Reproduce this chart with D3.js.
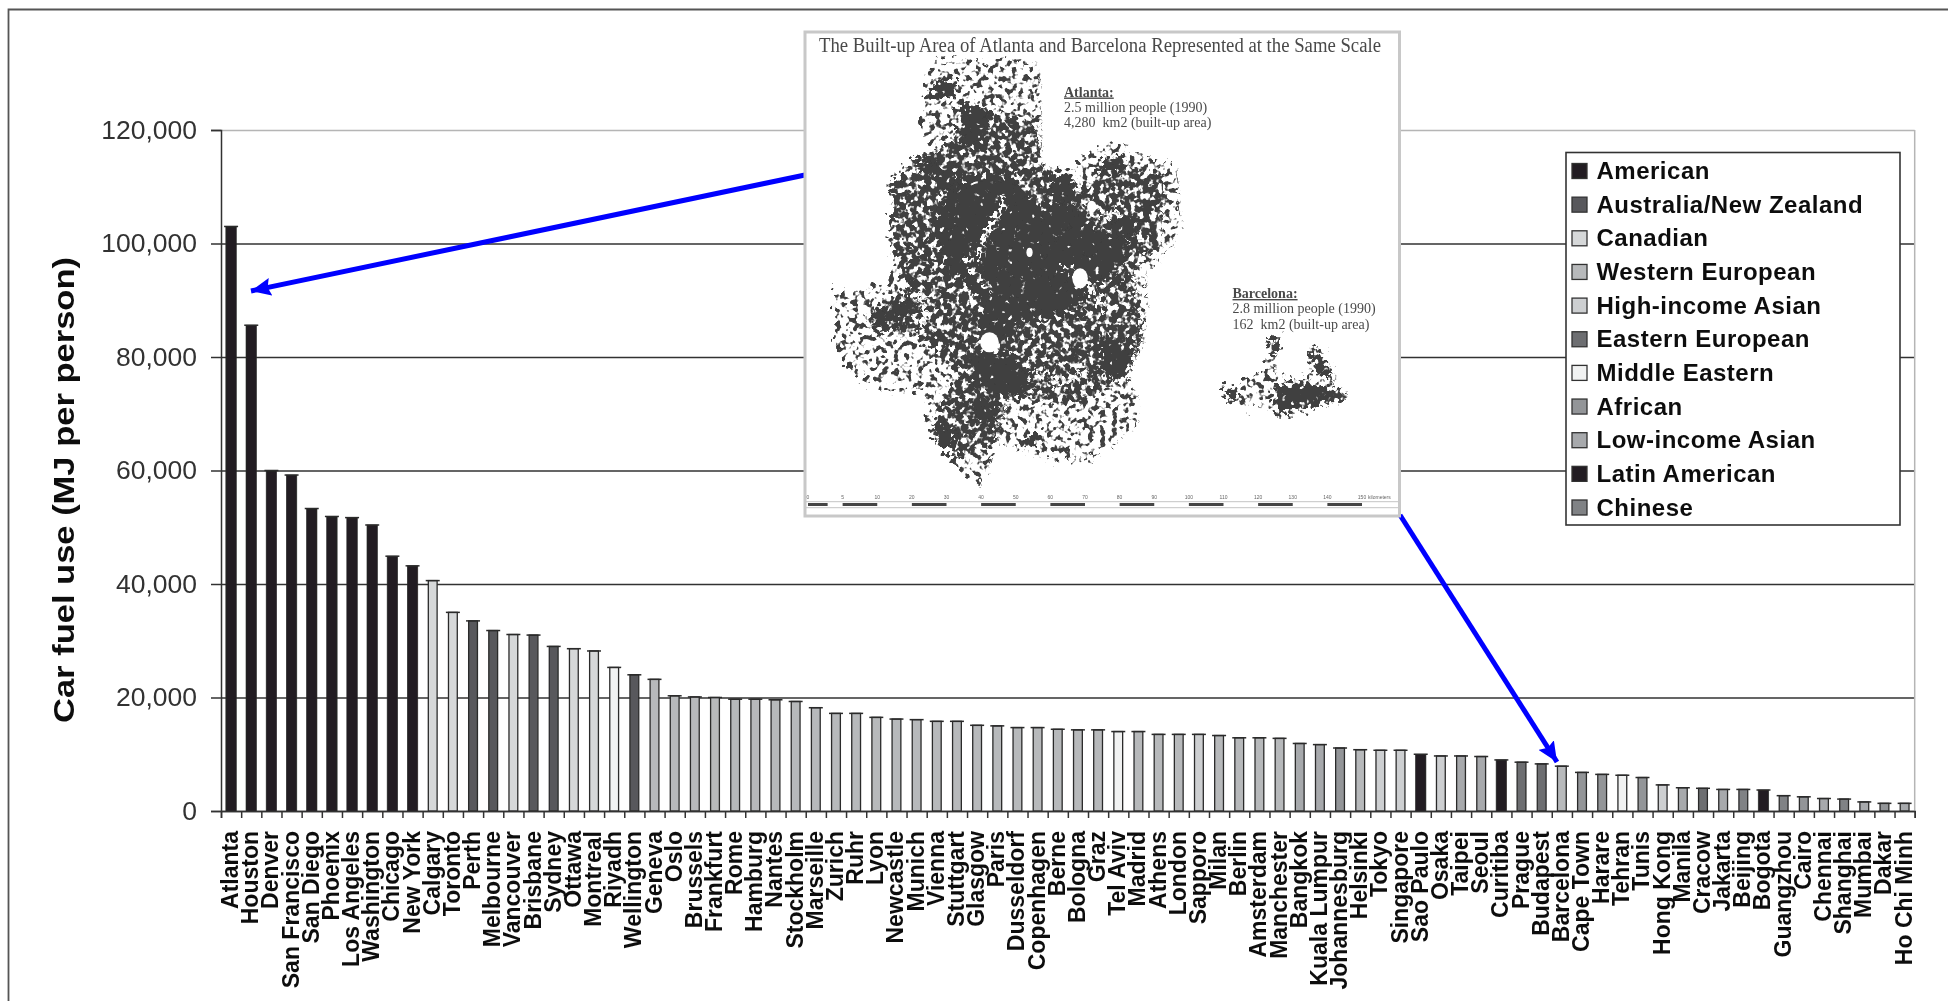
<!DOCTYPE html>
<html>
<head>
<meta charset="utf-8">
<title>Car fuel use</title>
<script src="https://cdn.jsdelivr.net/npm/d3@7"></script>
<style>
  body { margin: 0; background: #fff; }
  text { font-family: "Liberation Sans", Arial, sans-serif; }
  .serif { font-family: "Liberation Serif", "Times New Roman", serif; fill: #4a4a4a; white-space: pre; }
</style>
</head>
<body>
<div id="chart"></div>
<script>
// chart data
var cities = ["Atlanta","Houston","Denver","San Francisco","San Diego","Phoenix","Los Angeles","Washington","Chicago","New York",
  "Calgary","Toronto","Perth","Melbourne","Vancouver","Brisbane","Sydney","Ottawa","Montreal","Riyadh",
  "Wellington","Geneva","Oslo","Brussels","Frankfurt","Rome","Hamburg","Nantes","Stockholm","Marseille",
  "Zurich","Ruhr","Lyon","Newcastle","Munich","Vienna","Stuttgart","Glasgow","Paris","Dusseldorf",
  "Copenhagen","Berne","Bologna","Graz","Tel Aviv","Madrid","Athens","London","Sapporo","Milan",
  "Berlin","Amsterdam","Manchester","Bangkok","Kuala Lumpur","Johannesburg","Helsinki","Tokyo","Singapore","Sao Paulo",
  "Osaka","Taipei","Seoul","Curitiba","Prague","Budapest","Barcelona","Cape Town","Harare","Tehran",
  "Tunis","Hong Kong","Manila","Cracow","Jakarta","Beijing","Bogota","Guangzhou","Cairo","Chennai",
  "Shanghai","Mumbai","Dakar","Ho Chi Minh"];

var fuelUse = [103000,85600,60000,59200,53300,51900,51700,50400,44900,43200,
  40600,35000,33500,31800,31100,31000,29000,28600,28200,25300,
  24000,23200,20300,20100,20000,19700,19700,19600,19300,18200,
  17200,17200,16500,16200,16100,15800,15800,15100,15000,14700,
  14700,14400,14300,14300,14000,14000,13500,13500,13500,13300,
  12900,12900,12800,11900,11700,11100,10800,10700,10700,10000,
  9700,9700,9600,9000,8600,8300,7900,6800,6450,6300,
  5900,4600,4100,4000,3800,3800,3700,2700,2500,2200,
  2100,1600,1350,1350];

var cityRegion = ["US","US","US","US","US","US","US","US","US","US",
  "CA","CA","AU","AU","CA","AU","AU","CA","CA","ME",
  "AU","WE","WE","WE","WE","WE","WE","WE","WE","WE",
  "WE","WE","WE","WE","WE","WE","WE","WE","WE","WE",
  "WE","WE","WE","WE","ME","WE","WE","WE","HA","WE",
  "WE","WE","WE","LA","LA","AF","WE","HA","HA","LT",
  "HA","LA","LA","LT","EE","EE","WE","AF","AF","ME",
  "AF","HA","LA","EE","LA","CN","LT","CN","AF","LA",
  "CN","LA","AF","LA"];

var regionKeys = ["US","AU","CA","WE","HA","EE","ME","AF","LA","LT","CN"];
var regionNames = ["American","Australia/New Zealand","Canadian","Western European","High-income Asian","Eastern European","Middle Eastern","African","Low-income Asian","Latin American","Chinese"];
var regionColors = ["#231f20","#58595b","#d6d8d9","#b7b9bb","#cdcfd1","#6d6e71","#f1f2f2","#939598","#a7a9ac","#231f20","#808285"];

var yTicks = [0,20000,40000,60000,80000,100000,120000];

// inset text
var insetTitle = "The Built-up Area of Atlanta and Barcelona Represented at the Same Scale";
var atlantaNote = ["Atlanta:","2.5 million people (1990)","4,280  km2 (built-up area)"];
var barcelonaNote = ["Barcelona:","2.8 million people (1990)","162  km2 (built-up area)"];
var scaleLabels = [0,5,10,20,30,40,50,60,70,80,90,100,110,120,130,140,150];

// inset map shapes, traced in crop units of the inset
var atlantaSparse = [[350,105],[540,100],[625,125],[630,430],[700,430],[770,370],[800,355],[975,425],[990,615],[950,680],[895,740],[905,870],[880,960],[850,1060],[878,1130],[875,1195],[800,1270],[745,1310],[640,1300],[520,1260],[470,1385],[410,1325],[340,1230],[325,1150],[330,1100],[195,1085],[120,1025],[95,950],[95,800],[190,790],[240,780],[235,460],[300,400],[345,350],[305,300],[330,230],[325,150]];
var atlantaMid = [[420,240],[610,290],[625,430],[740,500],[790,400],[940,450],[930,660],[860,740],[885,950],[840,1050],[720,1140],[540,1110],[510,1250],[420,1290],[345,1210],[380,1110],[420,1040],[300,930],[190,925],[180,860],[280,790],[245,700],[245,470],[330,400],[400,330]];
var atlantaCore = [[395,490],[440,450],[545,455],[600,530],[700,540],[745,600],[850,650],[820,730],[725,830],[690,860],[580,890],[530,960],[450,925],[475,825],[390,750],[345,625],[350,560]];
var atlantaBlobs = [
  [[340,430],[400,420],[405,490],[350,490]],
  [[185,865],[290,825],[305,870],[200,915]],
  [[430,985],[535,975],[610,1090],[530,1115],[450,1080]],
  [[770,950],[865,940],[835,1065],[775,1045]],
  [[340,1190],[395,1200],[410,1285],[360,1265]],
  [[575,1230],[620,1230],[610,1265],[580,1260]],
  [[795,580],[875,580],[865,640],[810,635]],
  [[775,395],[835,395],[825,445],[780,445]],
  [[340,165],[405,165],[395,215],[350,205]],
  [[415,250],[490,250],[475,355],[415,355]],
  [[300,400],[345,400],[340,450],[300,450]],
  [[640,440],[700,450],[720,540],[650,530]],
  [[450,1130],[510,1130],[500,1200],[450,1190]]
];
var atlantaGaps = [
  [[528,530],[505,590],[472,640],[465,705]],
  [[430,700],[470,770],[490,800]],
  [[680,730],[755,790],[790,850]],
  [[610,1040],[680,1075],[740,1040]],
  [[770,580],[830,560]],
  [[300,800],[330,860],[310,920]]
];
var atlantaHoles = [[720,760,20,30],[487,952,24,30],[590,682,8,14],[750,545,12,18]];
var barcelonaSparse = [[1085,1095],[1140,1075],[1200,1040],[1213,940],[1238,945],[1228,1040],[1255,1060],[1310,1060],[1318,975],[1345,985],[1385,1050],[1375,1080],[1415,1105],[1400,1130],[1300,1150],[1230,1172],[1195,1140],[1140,1150]];
var barcelonaCore = [[1220,1085],[1290,1070],[1400,1100],[1400,1125],[1300,1150],[1232,1172]];
var barcelonaBits = [[[1208,940],[1235,940],[1232,975],[1210,975]],[[1310,980],[1345,985],[1365,1050],[1330,1050]],[[1088,1095],[1120,1085],[1130,1120],[1110,1125]]];

// arrows: start behind the inset, tip at the bar they point to
var arrowLines = [[[805,175],[251,291]],[[1400,515],[1557,762]]];

var width = 1948, height = 1001;
var plot = {left: 221, right: 1914.7, top: 130, bottom: 811};

var svg = d3.select("#chart").append("svg")
  .attr("width", width).attr("height", height)
  .style("display", "block");

var defs = svg.append("defs");

// whole picture is slightly soft, like the scan
defs.append("filter").attr("id", "soft")
  .attr("filterUnits", "userSpaceOnUse")
  .attr("x", 0).attr("y", 0).attr("width", width).attr("height", height)
  .append("feGaussianBlur").attr("stdDeviation", 0.55);

// speckle filter for the built-up areas
function speckle(id, cut, freq, seed) {
  var f = defs.append("filter").attr("id", id)
    .attr("filterUnits", "userSpaceOnUse")
    .attr("x", 800).attr("y", 30).attr("width", 600).attr("height", 490)
    .attr("color-interpolation-filters", "sRGB");
  f.append("feTurbulence").attr("type", "fractalNoise").attr("baseFrequency", freq)
    .attr("numOctaves", 2).attr("seed", seed).attr("result", "noise");
  f.append("feDisplacementMap").attr("in", "SourceGraphic").attr("in2", "noise")
    .attr("scale", 26).attr("xChannelSelector", "R").attr("yChannelSelector", "G").attr("result", "moved");
  f.append("feColorMatrix").attr("in", "noise").attr("type", "matrix")
    .attr("values", "0 0 0 0 0  0 0 0 0 0  0 0 0 0 0  10 0 0 0 " + (-10 * cut)).attr("result", "mask");
  f.append("feComposite").attr("in", "moved").attr("in2", "mask").attr("operator", "in").attr("result", "cut");
  f.append("feGaussianBlur").attr("in", "cut").attr("stdDeviation", 0.6);
}
speckle("sparse", 0.52, 0.17, 4);
speckle("mid", 0.42, 0.16, 9);
speckle("dense", 0.26, 0.15, 2);

defs.append("marker").attr("id", "head")
  .attr("markerUnits", "userSpaceOnUse")
  .attr("viewBox", "0 0 20 18").attr("refX", 20).attr("refY", 9)
  .attr("markerWidth", 20).attr("markerHeight", 18).attr("orient", "auto")
  .append("path").attr("d", "M0,0L20,9L0,18L3,9Z").attr("fill", "#0000ff");

var root = svg.append("g").attr("filter", "url(#soft)");

// frame, only the top and left sides are inside the picture
root.append("path").attr("d", d3.line()([[8.5, height], [8.5, 9.5], [width, 9.5]]))
  .attr("fill", "none").attr("stroke", "#555").attr("stroke-width", 1.8);

var x = d3.scaleBand().domain(cities).range([plot.left, plot.right]);
var xEdges = d3.scaleLinear().domain([0, cities.length]).range([plot.left, plot.right]);
var y = d3.scaleLinear().domain([0, 120000]).range([plot.bottom, plot.top]);

// gridlines
var grid = root.append("g").attr("transform", "translate(" + plot.left + ",0)")
  .call(d3.axisLeft(y).tickValues(yTicks).tickSize(-(plot.right - plot.left)).tickFormat(""));
grid.select(".domain").remove();
grid.selectAll("line")
  .attr("stroke", function(d) { return d === 120000 ? "#b5b5b5" : "#333"; })
  .attr("stroke-width", 1.5);

root.append("line")
  .attr("x1", plot.right).attr("x2", plot.right)
  .attr("y1", y(120000)).attr("y2", y(0))
  .attr("stroke", "#b5b5b5").attr("stroke-width", 1.5);

// y axis
var yAxis = root.append("g").attr("transform", "translate(" + plot.left + ",0)")
  .call(d3.axisLeft(y).tickValues(yTicks).tickSize(10).tickPadding(14).tickFormat(d3.format(",")));
yAxis.select(".domain").attr("stroke", "#333").attr("stroke-width", 1.5);
yAxis.selectAll("line").attr("stroke", "#333").attr("stroke-width", 1.5);
yAxis.selectAll("text").attr("font-size", 26.5).attr("font-family", "Liberation Sans").attr("fill", "#333");

root.append("text")
  .attr("transform", "translate(74,490) rotate(-90)")
  .attr("text-anchor", "middle")
  .attr("font-size", 30).attr("font-weight", "bold").attr("fill", "#111")
  .attr("textLength", 466).attr("lengthAdjust", "spacingAndGlyphs")
  .text("Car fuel use (MJ per person)");

function colorOf(i) { return regionColors[regionKeys.indexOf(cityRegion[i])]; }
function isBlack(i) { return colorOf(i) === "#231f20"; }
function barW(i) { return isBlack(i) ? 10.5 : 8.8; }

var rows = cities.map(function(c, i) { return {city: c, value: fuelUse[i], i: i}; });

// bars
root.append("g").selectAll("rect").data(rows).enter().append("rect")
  .attr("x", function(d) { return x(d.city) + (x.bandwidth() - barW(d.i)) / 2; })
  .attr("y", function(d) { return y(d.value); })
  .attr("width", function(d) { return barW(d.i); })
  .attr("height", function(d) { return y(0) - y(d.value); })
  .attr("fill", function(d) { return colorOf(d.i); })
  .attr("stroke", "#2b2b2b").attr("stroke-width", function(d) { return isBlack(d.i) ? 0.6 : 1.3; });

// little caps on the bar tops
root.append("g").selectAll("line").data(rows).enter().append("line")
  .attr("x1", function(d) { return x(d.city) + x.bandwidth() / 2 - 7; })
  .attr("x2", function(d) { return x(d.city) + x.bandwidth() / 2 + 7; })
  .attr("y1", function(d) { return y(d.value); })
  .attr("y2", function(d) { return y(d.value); })
  .attr("stroke", "#2b2b2b").attr("stroke-width", 1.5);

// x axis: ticks at band edges, labels at band centres
var xTicks = root.append("g").attr("transform", "translate(0," + plot.bottom + ")")
  .call(d3.axisBottom(xEdges).tickValues(d3.range(cities.length + 1)).tickSize(7).tickFormat(""));
xTicks.select(".domain").attr("stroke", "#333").attr("stroke-width", 1.5);
xTicks.selectAll("line").attr("stroke", "#333").attr("stroke-width", 1.5);

var xLabels = root.append("g").attr("transform", "translate(-1," + plot.bottom + ")")
  .call(d3.axisBottom(x).tickSize(0).tickPadding(0));
xLabels.select(".domain").remove();
xLabels.selectAll("text")
  .attr("font-size", 23).attr("font-weight", "bold").attr("font-family", "Liberation Sans")
  .attr("fill", "#111")
  .attr("text-anchor", "end")
  .attr("dy", null)
  .attr("x", -20).attr("y", 8)
  .attr("transform", "rotate(-90)");

// arrows
root.append("g").selectAll("line").data(arrowLines).enter().append("line")
  .attr("x1", function(d) { return d[0][0]; }).attr("y1", function(d) { return d[0][1]; })
  .attr("x2", function(d) { return d[1][0]; }).attr("y2", function(d) { return d[1][1]; })
  .attr("stroke", "#0000ff").attr("stroke-width", 5)
  .attr("marker-end", "url(#head)");

// inset
var inset = root.append("g");
inset.append("rect")
  .attr("x", 805).attr("y", 32).attr("width", 594.5).attr("height", 484)
  .attr("fill", "#fff").attr("stroke", "#c8c8c8").attr("stroke-width", 3);

var mapX = d3.scaleLinear().domain([0, 1568]).range([800, 1410]);
var mapY = d3.scaleLinear().domain([0, 1500]).range([25, 525]);
var mapLine = d3.line().x(function(p) { return mapX(p[0]); }).y(function(p) { return mapY(p[1]); });
var mapShape = d3.line().x(function(p) { return mapX(p[0]); }).y(function(p) { return mapY(p[1]); }).curve(d3.curveLinearClosed);
var mapInk = "#3f3f3f";

function mapShapes(list, filterId) {
  inset.append("g").attr("filter", "url(#" + filterId + ")")
    .selectAll("path").data(list).enter().append("path")
    .attr("d", mapShape).attr("fill", mapInk);
}
mapShapes([atlantaSparse, barcelonaSparse], "sparse");
mapShapes([atlantaMid], "mid");
mapShapes([atlantaCore, barcelonaCore].concat(atlantaBlobs, barcelonaBits), "dense");

// roads and lakes showing through the built-up mass
inset.append("g").attr("filter", "url(#mid)").selectAll("path").data(atlantaGaps).enter().append("path")
  .attr("d", mapLine).attr("fill", "none").attr("stroke", "#fff").attr("stroke-width", 6);

inset.selectAll("ellipse").data(atlantaHoles).enter().append("ellipse")
  .attr("cx", function(d) { return mapX(d[0]); }).attr("cy", function(d) { return mapY(d[1]); })
  .attr("rx", function(d) { return d[2] / 2.57; }).attr("ry", function(d) { return d[3] / 3; })
  .attr("fill", "#fff");

inset.append("text").attr("class", "serif")
  .attr("x", 1100).attr("y", 51.5).attr("text-anchor", "middle")
  .attr("font-size", 20).attr("textLength", 562).attr("lengthAdjust", "spacingAndGlyphs")
  .text(insetTitle);

function note(lines, nx, ny) {
  lines.forEach(function(t, i) {
    inset.append("text").attr("class", "serif")
      .attr("x", nx).attr("y", ny + i * 15.4)
      .attr("font-size", 14)
      .attr("font-weight", i === 0 ? "bold" : "normal")
      .attr("text-decoration", i === 0 ? "underline" : "none")
      .text(t);
  });
}
note(atlantaNote, 1064, 96.5);
note(barcelonaNote, 1232.5, 298);

// map scale bar
var scalePos = d3.scalePoint().domain(scaleLabels).range([808, 1362]);
inset.append("g").selectAll("line").data([501.7, 507.7]).enter().append("line")
  .attr("x1", 806).attr("x2", 1398).attr("y1", function(d) { return d; }).attr("y2", function(d) { return d; })
  .attr("stroke", "#c4c4c4").attr("stroke-width", 1);
var segs = scaleLabels.slice(0, -1).filter(function(d, i) { return i === 0 || i % 2 === 1; });
inset.append("g").selectAll("line").data(segs).enter().append("line")
  .attr("x1", function(d) { return scalePos(d); })
  .attr("x2", function(d) {
    var end = scalePos(scaleLabels[scaleLabels.indexOf(d) + 1]);
    return d === 0 ? end - 15 : end;
  })
  .attr("y1", 504.5).attr("y2", 504.5)
  .attr("stroke", "#444").attr("stroke-width", 3);
inset.append("g").selectAll("text").data(scaleLabels).enter().append("text")
  .attr("x", function(d) { return scalePos(d); }).attr("y", 499)
  .attr("text-anchor", "middle").attr("font-size", 5).attr("fill", "#666")
  .text(function(d) { return d; });
inset.append("text").attr("x", 1368).attr("y", 499).attr("font-size", 5).attr("fill", "#666").text("kilometers");

// legend
var legend = root.append("g");
legend.append("rect")
  .attr("x", 1566).attr("y", 152.5).attr("width", 334).attr("height", 372.5)
  .attr("fill", "#fff").attr("stroke", "#333").attr("stroke-width", 1.6);

var legendRow = d3.scalePoint().domain(regionNames).range([171, 507.5]);

legend.selectAll("rect.swatch").data(regionNames).enter().append("rect")
  .attr("class", "swatch")
  .attr("x", 1572).attr("width", 15).attr("height", 15)
  .attr("y", function(d) { return legendRow(d) - 7.5; })
  .attr("fill", function(d, i) { return regionColors[i]; })
  .attr("stroke", "#333").attr("stroke-width", 1.3);

legend.selectAll("text").data(regionNames).enter().append("text")
  .attr("x", 1596.5)
  .attr("y", function(d) { return legendRow(d) + 8; })
  .attr("font-size", 24).attr("font-weight", "bold").attr("fill", "#111")
  .attr("letter-spacing", 0.5)
  .text(function(d) { return d; });
</script>
</body>
</html>
